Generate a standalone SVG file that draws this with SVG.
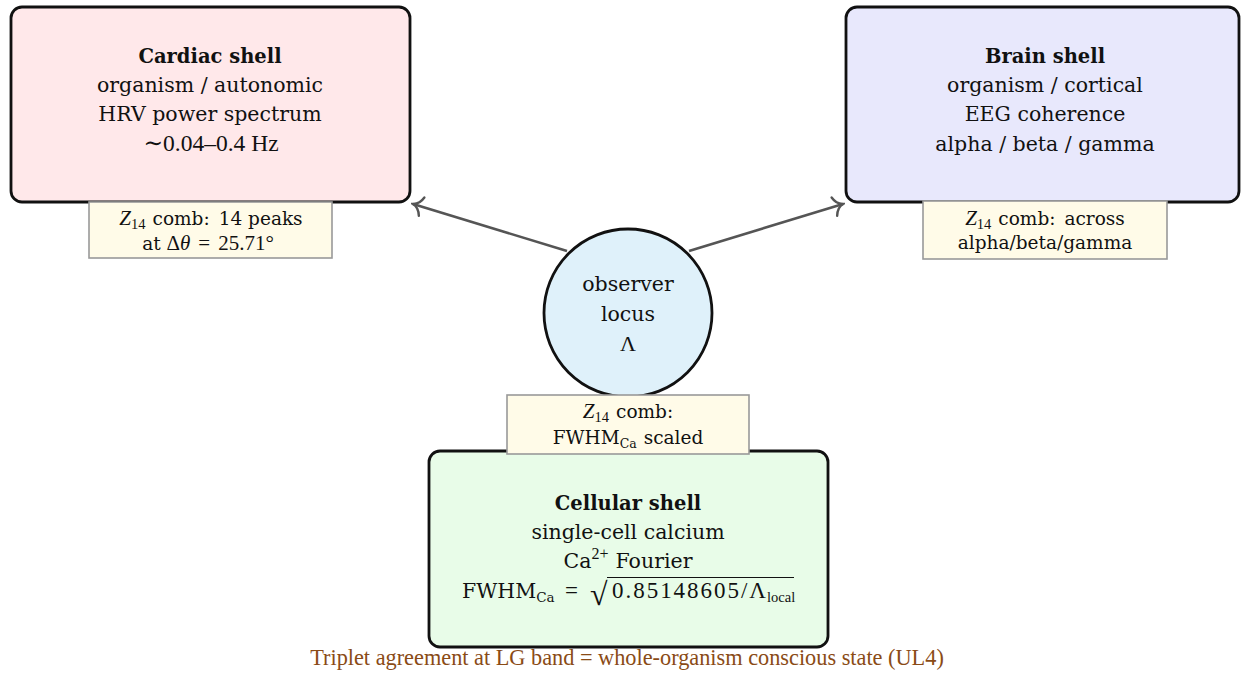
<svg xmlns="http://www.w3.org/2000/svg" width="1241" height="673" viewBox="0 0 1241 673">
<style>
.shell{stroke:#111;stroke-width:2.8}
.lbl{fill:#fffbe8;stroke:#999;stroke-width:1.6}
.t{font-family:"DejaVu Serif","Liberation Serif",serif;font-size:20.5px;fill:#111;text-anchor:middle}
.b{font-weight:bold;font-size:19.5px}
.m{font-family:"Liberation Serif","DejaVu Serif",serif}
.f{font-family:"Liberation Serif","DejaVu Serif",serif;fill:#111;text-anchor:start}
.s{font-family:"DejaVu Serif","Liberation Serif",serif;font-size:18.5px;fill:#111;text-anchor:middle}
.cap{font-family:"Liberation Serif","DejaVu Serif",serif;font-size:22.3px;fill:#8a4b16;text-anchor:middle}
.conn{stroke:#555;stroke-width:2.6;fill:none}
</style>
<defs>
<marker id="arr" viewBox="-12 -12 14 24" refX="0" refY="0" markerWidth="14" markerHeight="24" markerUnits="userSpaceOnUse" orient="auto">
<path d="M-9,-9.5 C-7,-3.5 -3,-0.8 0,0 C-3,0.8 -7,3.5 -9,9.5" fill="none" stroke="#555" stroke-width="2.4" stroke-linecap="round"/>
</marker>
</defs>
<g id="connectors">
<line class="conn" x1="567" y1="251" x2="413" y2="204" marker-end="url(#arr)"/>
<line class="conn" x1="689" y1="251" x2="843" y2="204" marker-end="url(#arr)"/>
</g>
<g id="cardiac">
<rect class="shell" x="11" y="7" width="399" height="195" rx="11" fill="#ffe8ea"/>
<text class="t b" x="210" y="63">Cardiac shell</text>
<text class="t" x="210" y="92">organism / autonomic</text>
<text class="t" x="210" y="121">HRV power spectrum</text>
<text class="t" x="211" y="151"><tspan class="m" font-size="23.5">∼0.04–0.4 Hz</tspan></text>
</g>
<g id="cardiac-label">
<rect class="lbl" x="89" y="202" width="243" height="56"/>
<text class="s" x="211" y="225"><tspan class="m" font-style="italic" font-size="21">Z</tspan><tspan class="m" font-size="14.5" dy="4">14</tspan><tspan dy="-4" dx="7">comb:</tspan><tspan dx="9">14 peaks</tspan></text>
<text class="s" x="208" y="250">at <tspan class="m" font-size="21">Δ<tspan font-style="italic">θ</tspan><tspan dx="8">=</tspan><tspan dx="8">25.71°</tspan></tspan></text>
</g>
<g id="brain">
<rect class="shell" x="846" y="7" width="393" height="195" rx="11" fill="#e8e8fc"/>
<text class="t b" x="1045" y="63">Brain shell</text>
<text class="t" x="1045" y="92">organism / cortical</text>
<text class="t" x="1045" y="121">EEG coherence</text>
<text class="t" x="1045" y="151">alpha / beta / gamma</text>
</g>
<g id="brain-label">
<rect class="lbl" x="923" y="201" width="244" height="58"/>
<text class="s" x="1045" y="225"><tspan class="m" font-style="italic" font-size="21">Z</tspan><tspan class="m" font-size="14.5" dy="4">14</tspan><tspan dy="-4" dx="7">comb:</tspan><tspan dx="9">across</tspan></text>
<text class="s" x="1045" y="249">alpha/beta/gamma</text>
</g>
<g id="observer">
<circle cx="628" cy="313" r="84" fill="#dff1fa" stroke="#111" stroke-width="2.8"/>
<text class="t" x="628" y="291">observer</text>
<text class="t" x="628" y="321">locus</text>
<text class="t" x="628" y="351"><tspan class="m" font-size="22">Λ</tspan></text>
</g>
<g id="cellular">
<rect class="shell" x="429" y="451" width="399" height="196" rx="11" fill="#e8fce8"/>
<text class="t b" x="628" y="510">Cellular shell</text>
<text class="t" x="628" y="539">single-cell calcium</text>
<text class="t" x="628" y="568">Ca<tspan class="m" font-size="16" dy="-9">2+</tspan><tspan dy="9" dx="7">Fourier</tspan></text>
<text class="t" x="462" y="598" style="text-anchor:start">FWHM<tspan font-size="13.5" dy="4">Ca</tspan></text>
<text class="f" x="565" y="598" font-size="23">=</text>
<text class="f" x="590" y="605" font-size="32">√</text>
<text class="f" x="612" y="598" font-size="23" textLength="154" lengthAdjust="spacing">0.85148605/Λ</text>
<text class="f" x="767" y="602" font-size="14.5">local</text>
<line x1="607" y1="577.5" x2="794" y2="577.5" stroke="#111" stroke-width="1.2"/>
</g>
<g id="cellular-label">
<rect class="lbl" x="507" y="395" width="242" height="59"/>
<text class="s" x="628" y="418"><tspan class="m" font-style="italic" font-size="21">Z</tspan><tspan class="m" font-size="14.5" dy="4">14</tspan><tspan dy="-4" dx="7">comb:</tspan></text>
<text class="s" x="628" y="444">FWHM<tspan font-size="12.5" dy="4">Ca</tspan><tspan dy="-4" dx="7">scaled</tspan></text>
</g>
<text class="cap" x="627" y="665">Triplet agreement at LG band = whole-organism conscious state (UL4)</text>
</svg>
